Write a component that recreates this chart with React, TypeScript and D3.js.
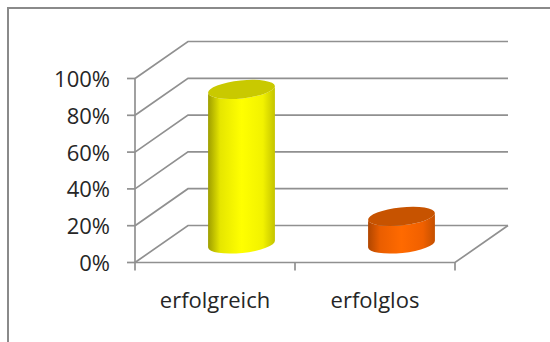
import { useEffect, useRef } from "react";
import * as d3 from "d3";

const categories = ["erfolgreich", "erfolglos"];
const values = [0.84, 0.15];
const yTicks = [0, 0.2, 0.4, 0.6, 0.8, 1];

const bodyStops = [
  ["#9e9e00", "#e6e600", "#ffff00", "#f2f200", "#c4c400"],
  ["#b04600", "#ea5e00", "#ff6a00", "#f06000", "#c45000"],
];
const topColors = ["#c9c900", "#c75300"];

export default function App() {
  const svgRef = useRef<SVGSVGElement | null>(null);

  useEffect(() => {
    const svgEl = svgRef.current;
    if (!svgEl) return;
    const width = 550;
    const height = 342;
    const svg = d3.select(svgEl);
    svg.selectAll("*").remove();
    svg.attr("width", width).attr("height", height);

    // 3d depth offset of the back wall
    const depthX = 53;
    const depthY = 37;

    const x = d3.scaleBand<string>().domain(categories).range([135, 455]).padding(0);
    const y = d3.scaleLinear().domain([0, 1]).range([262.5, 78.5]);
    const [x0, x1] = x.range();

    const defs = svg.append("defs");
    categories.forEach((c, i) => {
      const grad = defs
        .append("linearGradient")
        .attr("id", `body${i}`)
        .attr("x1", "0%")
        .attr("x2", "100%")
        .attr("y1", "0%")
        .attr("y2", "0%");
      const offs = [0, 0.18, 0.5, 0.82, 1];
      bodyStops[i].forEach((col, k) => {
        grad.append("stop").attr("offset", offs[k]).attr("stop-color", col);
      });
    });

    // outer chart frame
    svg
      .append("rect")
      .attr("x", 8)
      .attr("y", 8)
      .attr("width", 600)
      .attr("height", 400)
      .attr("fill", "none")
      .attr("stroke", "#8a8a8a")
      .attr("stroke-width", 2);

    const grid = svg.append("g").attr("stroke", "#909090").attr("stroke-width", 1.7).attr("fill", "none");

    yTicks.forEach((t) => {
      grid
        .append("path")
        .attr("d", `M${x0},${y(t)}L${x0 + depthX},${y(t) - depthY}L${x1 + depthX},${y(t) - depthY}`);
    });

    // floor
    grid
      .append("path")
      .attr("d", `M${x0},${y(0)}L${x1},${y(0)}L${x1 + depthX},${y(0) - depthY}`);

    // cylinders
    const rx = x.bandwidth() * 0.21;
    const ry = 9;
    const rot = -6;
    const a = rx * Math.cos((rot * Math.PI) / 180);
    const b = rx * Math.sin((rot * Math.PI) / 180);

    categories.forEach((c, i) => {
      const cx = (x(c) ?? 0) + x.bandwidth() / 2 + depthX / 2;
      const yb = y(0) - depthY / 2;
      const yt = y(values[i]) - depthY / 2;
      const g = svg.append("g");
      g.append("path")
        .attr(
          "d",
          `M${cx - a},${yt - b}L${cx - a},${yb - b}` +
            `A${rx},${ry} ${rot} 0 0 ${cx + a},${yb + b}` +
            `L${cx + a},${yt + b}` +
            `A${rx},${ry} ${rot} 0 1 ${cx - a},${yt - b}Z`
        )
        .attr("fill", `url(#body${i})`);
      g.append("ellipse")
        .attr("cx", cx)
        .attr("cy", yt)
        .attr("rx", rx)
        .attr("ry", ry)
        .attr("transform", `rotate(${rot},${cx},${yt})`)
        .attr("fill", topColors[i]);
    });

    // front axes
    const axis = svg.append("g").attr("stroke", "#909090").attr("stroke-width", 1.7).attr("fill", "none");
    axis.append("path").attr("d", `M${x0},${y(1)}L${x0},${y(0)}`);
    yTicks.forEach((t) => {
      axis.append("path").attr("d", `M${x0 - 8},${y(t)}L${x0},${y(t)}`);
    });
    [x0, x0 + x.bandwidth(), x1].forEach((px) => {
      axis.append("path").attr("d", `M${px},${y(0)}L${px},${y(0) + 8}`);
    });

    svg
      .append("g")
      .selectAll("text")
      .data(yTicks)
      .enter()
      .append("text")
      .attr("x", 110)
      .attr("y", (t) => y(t) + 8.5)
      .attr("text-anchor", "end")
      .attr("font-family", "'Open Sans', sans-serif")
      .attr("font-size", 22)
      .attr("fill", "#262626")
      .text((t) => d3.format(".0%")(t));

    svg
      .append("g")
      .selectAll("text")
      .data(categories)
      .enter()
      .append("text")
      .attr("x", (c) => (x(c) ?? 0) + x.bandwidth() / 2)
      .attr("y", 308)
      .attr("text-anchor", "middle")
      .attr("font-family", "'Open Sans', sans-serif")
      .attr("font-size", 22)
      .attr("fill", "#262626")
      .text((c) => c);
  }, []);

  return (
    <svg
      ref={svgRef}
      style={{ position: "absolute", left: 0, top: 0, background: "#fff" }}
    />
  );
}
